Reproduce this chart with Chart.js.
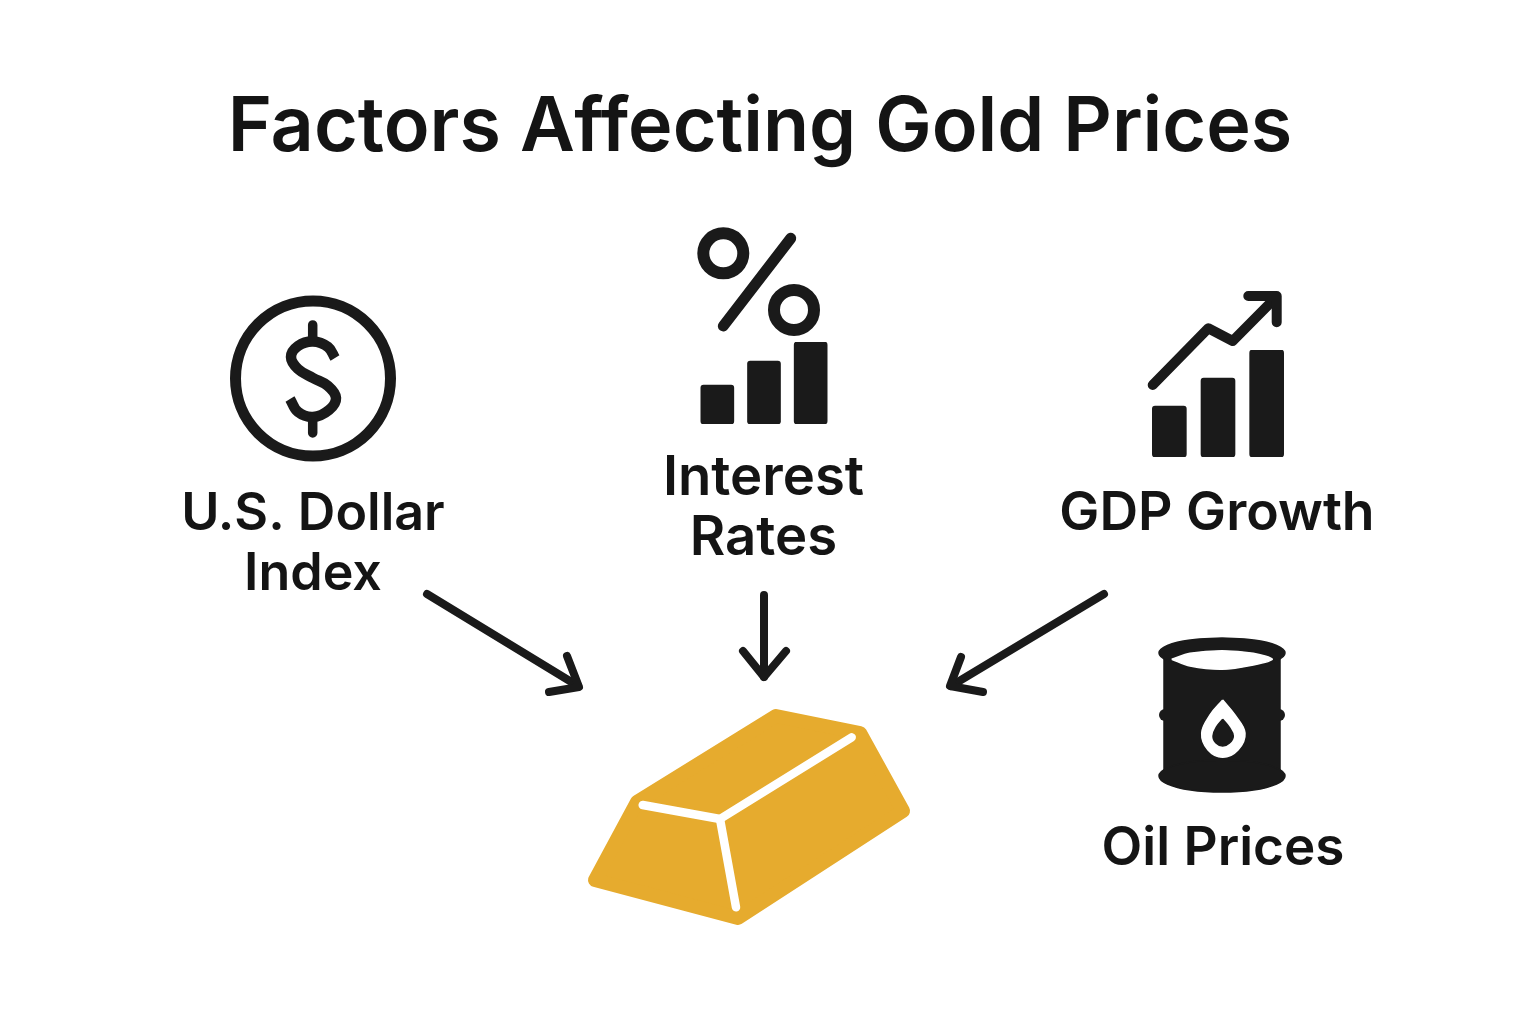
<!DOCTYPE html>
<html lang="en">

<head>
    <meta charset="UTF-8">
    <title>Factors Affecting Gold Prices</title>
    <script src="https://cdn.jsdelivr.net/npm/chart.js"></script>
    <style>
        body { margin: 0; background: #fff; overflow: hidden; }
        canvas { position: absolute; }
        #grafico-principal { left: 0; top: 0; }
        #grafico-juros { left: 694px; top: 342px; }
        #grafico-pib { left: 1145px; top: 350px; }
    </style>
</head>

<body>
    <canvas id="grafico-principal" width="1536" height="1024"></canvas>
    <canvas id="grafico-juros" width="140" height="82"></canvas>
    <canvas id="grafico-pib" width="146" height="107"></canvas>

<script>
    // text
    const chartTitle = 'Factors Affecting Gold Prices';
    const factorNames = [['U.S. Dollar', 'Index'], ['Interest', 'Rates'], ['GDP Growth'], ['Oil Prices']];

    // the two little bar icons
    const barCategories = ['1', '2', '3'];
    const interestBars = [39, 63, 82];
    const gdpBars = [51, 79, 107];

    // outlines, in picture pixels
    const dollarRing = [{ x: 313, y: 378.5 }];
    const dollarS = [[335, 358], [328, 347], [313, 341.5], [298, 346], [291, 357], [298, 369], [313, 378], [328, 386], [336, 398], [329, 410], [313, 417], [298, 412], [290, 399]];
    const dollarStubTop = [[312.7, 325], [312.7, 341]];
    const dollarStubBottom = [[312.7, 417], [312.7, 433]];

    const percentRings = [{ x: 723.3, y: 253.3 }, { x: 794, y: 310 }];
    const percentSlash = [[790.7, 238.3], [723.3, 326]];

    const gdpLine = [[1152.7, 385], [1208.3, 328.3], [1232.7, 341], [1273.3, 300]];
    const gdpHead = [[1248.3, 296], [1276.7, 296], [1276.7, 322.3]];

    const arrowLeft = [[427, 594], [578, 686]];
    const arrowLeftHead = [[567, 656], [579, 687], [549, 692]];
    const arrowMiddle = [[764, 595], [764, 677]];
    const arrowMiddleHead = [[743, 651], [764, 677], [786, 651]];
    const arrowRight = [[1104, 594], [951, 686]];
    const arrowRightHead = [[961, 657], [950, 686], [983, 692]];

    const goldBar = [[818, 724.5], [860, 733], [903, 811], [738, 918], [595, 880], [637, 802], [776, 716], [818, 724.5]];
    const goldEdges = [[851.7, 737.3], [720, 819], [642.7, 805]];
    const goldEdgeFront = [[720, 819], [736, 907.3]];

    const barrelBody = [[1164, 655], [1280, 655], [1280, 775], [1164, 775], [1164, 655]];
    const barrelTop = [[1222, 638], [1253.5, 640], [1276.6, 645.5], [1285, 653], [1276.6, 660.5], [1253.5, 666], [1222, 668], [1190.5, 666], [1167.4, 660.5], [1159, 653], [1167.4, 645.5], [1190.5, 640], [1222, 638]];
    const barrelBottom = [[1222, 760], [1253.5, 762], [1276.6, 768], [1285, 776], [1276.6, 784], [1253.5, 790], [1222, 792], [1190.5, 790], [1167.4, 784], [1159, 776], [1167.4, 768], [1190.5, 762], [1222, 760]];
    const barrelHoop = [[1165, 715], [1279, 715]];
    const barrelOpening = [[1171.7, 659.3], [1190, 653.3], [1222, 650.7], [1253.3, 653.3], [1272.3, 659.3], [1253.3, 665], [1222, 669.3], [1190, 666], [1171.7, 659.3]];
    const dropOuter = [[1222.7, 700], [1235, 715], [1245, 733], [1238, 750], [1222.7, 757.3], [1208, 750], [1201.7, 733], [1210, 715], [1222.7, 700]];
    const dropInner = [[1222.7, 719.3], [1229, 727], [1233.3, 736], [1229.5, 743], [1222.7, 746], [1216, 743], [1213, 736], [1216.5, 727], [1222.7, 719.3]];

    const preto = '#1a1a1a';
    const dourado = '#e6ab2e';

    function pontos(lista) {
        return lista.map(function (p) { return { x: p[0], y: p[1] }; });
    }

    function linha(lista, largura, cor, cap) {
        return {
            data: pontos(lista), showLine: true, fill: false, pointRadius: 0,
            borderColor: cor, borderWidth: largura, borderCapStyle: cap || 'round', borderJoinStyle: 'round'
        };
    }

    function curva(lista, largura, cor) {
        let d = linha(lista, largura, cor, 'butt');
        d.tension = 0.4;
        return d;
    }

    function forma(lista, cor, tensao, borda) {
        return {
            data: pontos(lista), showLine: true, fill: 'shape', backgroundColor: cor, pointRadius: 0,
            borderColor: cor, borderWidth: borda || 1.5, borderJoinStyle: 'round', tension: tensao || 0
        };
    }

    function anel(lista, raio, largura) {
        return {
            data: lista, showLine: false, pointStyle: 'circle', pointRadius: raio,
            pointBorderWidth: largura, pointBorderColor: preto, pointBackgroundColor: 'rgba(0,0,0,0)'
        };
    }

    // listed bottom to top
    let camadas = [
        anel(dollarRing, 77.5, 11),
        curva(dollarS, 10.5, preto),
        linha(dollarStubTop, 9.5, preto, 'butt'),
        linha(dollarStubBottom, 9.5, preto, 'butt'),
        anel(percentRings, 20, 12),
        linha(percentSlash, 11, preto),
        linha(gdpLine, 10, preto),
        linha(gdpHead, 10, preto),
        linha(arrowLeft, 8, preto),
        linha(arrowLeftHead, 8, preto),
        linha(arrowMiddle, 8, preto),
        linha(arrowMiddleHead, 8, preto),
        linha(arrowRight, 8, preto),
        linha(arrowRightHead, 8, preto),
        forma(goldBar, dourado, 0, 14),
        linha(goldEdges, 8.5, '#ffffff'),
        linha(goldEdgeFront, 8.5, '#ffffff'),
        forma(barrelBody, preto),
        forma(barrelTop, preto, 0.4),
        forma(barrelBottom, preto, 0.4),
        linha(barrelHoop, 12, preto),
        forma(barrelOpening, '#ffffff', 0.3),
        forma(dropOuter, '#ffffff', 0.4),
        forma(dropInner, preto, 0.4)
    ];
    camadas.forEach(function (d, i) { d.order = camadas.length - i; d.clip = false; });

    // where each factor name sits: centre x, first baseline, font size
    const nomeX = [313, 763.5, 1217, 1223];
    const nomeY = [530, 495, 530, 865];
    const nomeFonte = [52, 54.5, 53.5, 53];
    const entreLinhas = 60;

    const pluginNomes = {
        id: 'nomes',
        afterDraw: function (chart) {
            const ctx = chart.ctx;
            ctx.save();
            ctx.fillStyle = '#141414';
            ctx.textAlign = 'center';
            ctx.textBaseline = 'alphabetic';
            factorNames.forEach(function (linhas, i) {
                ctx.font = '600 ' + nomeFonte[i] + 'px Inter';
                linhas.forEach(function (texto, j) {
                    ctx.fillText(texto, nomeX[i], nomeY[i] + j * entreLinhas);
                });
            });
            ctx.restore();
        }
    };

    new Chart(document.getElementById('grafico-principal'), {
        type: 'scatter',
        data: { datasets: camadas },
        plugins: [pluginNomes],
        options: {
            responsive: false,
            animation: false,
            events: [],
            layout: { autoPadding: false, padding: { right: 16 } },
            plugins: {
                legend: { display: false },
                tooltip: { enabled: false },
                title: {
                    display: true,
                    text: chartTitle,
                    color: '#141414',
                    font: { family: 'Inter', size: 75.4, weight: '600' },
                    padding: { top: 83, bottom: 26.5 }
                }
            },
            scales: {
                x: { type: 'linear', display: false, min: 0, max: 1520 },
                y: { type: 'linear', display: false, reverse: true, min: 200, max: 1024 }
            }
        }
    });

    function graficoBarras(id, valores, largura) {
        new Chart(document.getElementById(id), {
            type: 'bar',
            data: {
                labels: barCategories,
                datasets: [{
                    data: valores,
                    backgroundColor: preto,
                    barThickness: largura,
                    borderRadius: 3,
                    borderSkipped: false
                }]
            },
            options: {
                responsive: false,
                animation: false,
                events: [],
                plugins: { legend: { display: false }, tooltip: { enabled: false } },
                scales: {
                    x: { display: false },
                    y: { display: false, min: 0, max: Math.max.apply(null, valores) }
                }
            }
        });
    }

    graficoBarras('grafico-juros', interestBars, 33);
    graficoBarras('grafico-pib', gdpBars, 34);
</script>
</body>

</html>
